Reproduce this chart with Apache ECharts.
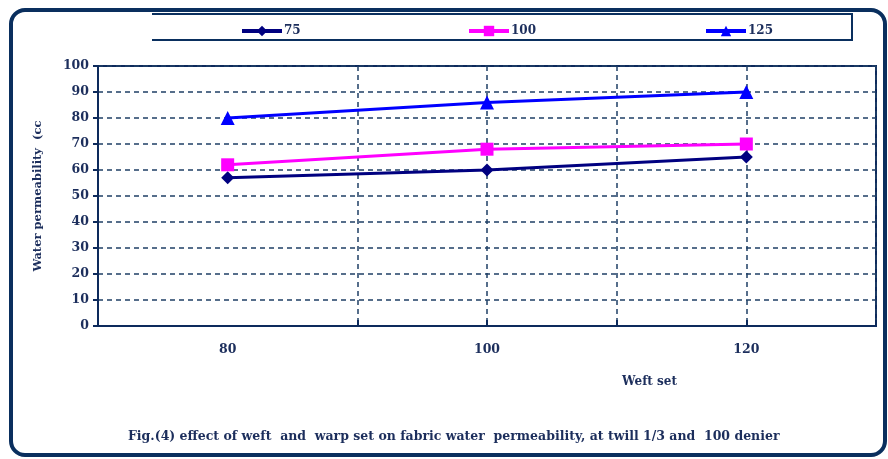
<!DOCTYPE html>
<html>
<head>
<meta charset="utf-8">
<script src="https://cdn.jsdelivr.net/npm/echarts@6/dist/echarts.min.js"></script>
<style>html,body{margin:0;padding:0;background:#fff}#c{width:888px;height:459px}</style>
</head>
<body>
<div id="c"></div>
<script>
var xValues = [80, 100, 120];
var s75 = [57, 60, 65];
var s100 = [62, 68, 70];
var s125 = [80, 86, 90];
var seriesNames = ['75', '100', '125'];
var xLabelValues = [80, 100, 120];
var xTickValues = [70, 90, 100, 110, 120, 130];
var yMin = 0, yMax = 100, yStep = 10;
var xAxisTitle = 'Weft set';
var yAxisTitle = 'Water permeability  (cc';
var caption = 'Fig.(4) effect of weft  and  warp set on fabric water  permeability, at twill 1/3 and  100 denier';

var navy = '#0d2a5c';
var txt = '#1c2e5c';
var font = '"DejaVu Serif", "Liberation Serif", serif';

function pairs(vals) { return xValues.map(function (x, i) { return [x, vals[i]]; }); }

var chart = echarts.init(document.getElementById('c'));
chart.setOption({
  animation: false,
  backgroundColor: '#fff',
  graphic: [
    { type: 'rect', shape: { x: 11, y: 10, width: 874, height: 445, r: 14 },
      style: { fill: 'none', stroke: '#0a2f5e', lineWidth: 4 }, z: 0 },
    { type: 'polyline', shape: { points: [[152, 14], [852, 14], [852, 40], [152, 40]] },
      style: { fill: 'none', stroke: '#0a2f5e', lineWidth: 2 }, z: 0 }
  ],
  title: [
    { text: xAxisTitle, left: 617, top: 371,
      textStyle: { fontFamily: font, fontSize: 12, fontWeight: 'bold', color: txt } },
    { text: caption, left: 123, top: 425,
      textStyle: { fontFamily: font, fontSize: 12.5, fontWeight: 'bold', color: txt } }
  ],
  legend: [
    { data: [seriesNames[0]], left: 235, top: 20 },
    { data: [seriesNames[1]], left: 462, top: 20 },
    { data: [seriesNames[2]], left: 699, top: 20 }
  ].map(function (l) {
    l.itemWidth = 40; l.itemHeight = 13; l.itemGap = 2;
    l.lineStyle = { width: 4 };
    l.textStyle = { fontFamily: font, fontSize: 12, fontWeight: 'bold', color: txt, padding: [0, 0, 0, -3] };
    return l;
  }),
  grid: { left: 98, right: 12, top: 66, bottom: 133, show: true, borderColor: navy, borderWidth: 2, backgroundColor: 'transparent' },
  xAxis: {
    type: 'value', min: 70, max: 130, interval: 10,
    axisLine: { show: true, lineStyle: { color: navy, width: 2 } },
    axisTick: { show: true, customValues: xTickValues, length: 6, inside: true, lineStyle: { color: navy, width: 2 } },
    axisLabel: { customValues: xLabelValues, margin: 17, fontFamily: font, fontSize: 12.5, fontWeight: 'bold', color: txt },
    splitLine: { show: true, lineStyle: { color: '#1f3f66', type: [5, 4], width: 1.5 } }
  },
  yAxis: {
    type: 'value', min: yMin, max: yMax, interval: yStep,
    name: yAxisTitle, nameLocation: 'middle', nameGap: 54, nameRotate: 90,
    nameTextStyle: { fontFamily: font, fontSize: 11.5, fontWeight: 'bold', color: txt },
    axisLine: { show: true, lineStyle: { color: navy, width: 2 } },
    axisTick: { show: true, length: 5, lineStyle: { color: navy, width: 2 } },
    axisLabel: { margin: 9, fontFamily: font, fontSize: 12.5, fontWeight: 'bold', color: txt },
    splitLine: { show: true, lineStyle: { color: '#1f3f66', type: [5, 4], width: 1.5 } }
  },
  series: [
    { name: seriesNames[0], type: 'line', data: pairs(s75), symbol: 'diamond', symbolSize: 13,
      lineStyle: { color: '#000080', width: 3 }, itemStyle: { color: '#000080' } },
    { name: seriesNames[1], type: 'line', data: pairs(s100), symbol: 'rect', symbolSize: 13,
      lineStyle: { color: '#ff00ff', width: 3 }, itemStyle: { color: '#ff00ff' } },
    { name: seriesNames[2], type: 'line', data: pairs(s125), symbol: 'triangle', symbolSize: 14,
      lineStyle: { color: '#0000ff', width: 3 }, itemStyle: { color: '#0000ff' } }
  ]
});
</script>
</body>
</html>
